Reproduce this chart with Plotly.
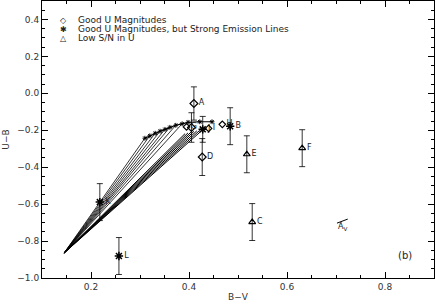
import plotly.graph_objects as go

# ---- model grid (two-component tracks) ----
start_bv = 0.145
start_ub = -0.865
upper_bv = [0.310, 0.320, 0.331, 0.341, 0.351, 0.361, 0.373, 0.386, 0.398, 0.422, 0.447]
upper_ub = [-0.243, -0.230, -0.216, -0.205, -0.195, -0.184, -0.173, -0.165, -0.157, -0.154, -0.154]
bundle_bv = [0.392, 0.398, 0.404, 0.410, 0.416, 0.422, 0.428]
bundle_ub = [-0.218, -0.214, -0.210, -0.206, -0.203, -0.200, -0.197]

# ---- observed points ----
good_bv = [0.410, 0.427]
good_ub = [-0.055, -0.345]
good_err = [0.09, 0.10]
good_lab = ["A", "D"]

good2_bv = [0.405]
good2_ub = [-0.185]
good2_err = [0.08]

emis_bv = [0.218, 0.257, 0.484, 0.428]
emis_ub = [-0.589, -0.881, -0.178, -0.195]
emis_err = [0.10, 0.10, 0.10, 0.07]
emis_lab = ["K", "L", "B", "J"]

low_bv = [0.518, 0.631, 0.529]
low_ub = [-0.330, -0.297, -0.697]
low_err = [0.10, 0.10, 0.10]
low_lab = ["E", "F", "C"]

clus_bv = [0.395, 0.440, 0.468]
clus_ub = [-0.182, -0.190, -0.168]
clus_lab = ["G", "I", "H"]

av_bv = [0.702, 0.724]
av_ub = [-0.703, -0.681]

xticks = [0.2, 0.4, 0.6, 0.8]
yticks = [-1.0, -0.8, -0.6, -0.4, -0.2, 0.0, 0.2, 0.4]

legend_labels = ["Good U Magnitudes",
                 "Good U Magnitudes, but Strong Emission Lines",
                 "Low S/N in U"]
legend_syms = ["\u25C7", "\u2731", "\u25B3"]

FONT = "DejaVu Sans, Verdana, sans-serif"
INK = "#222"

fig = go.Figure()

# fan lines from start point to upper curve
fx, fy = [], []
for i in range(8):
    fx += [start_bv, upper_bv[i], None]
    fy += [start_ub, upper_ub[i], None]
fig.add_trace(go.Scatter(x=fx, y=fy, mode="lines",
                         line=dict(color="black", width=0.8), hoverinfo="skip"))
# upper curve
fig.add_trace(go.Scatter(x=upper_bv, y=upper_ub, mode="lines+markers",
                         line=dict(color="black", width=1.2),
                         marker=dict(symbol="asterisk-open", size=4, color="black",
                                     line=dict(color="black", width=1)),
                         hoverinfo="skip"))
# thick bundle
bx, by = [], []
for i in range(len(bundle_bv)):
    bx += [start_bv, bundle_bv[i], None]
    by += [start_ub, bundle_ub[i], None]
fig.add_trace(go.Scatter(x=bx, y=by, mode="lines",
                         line=dict(color="black", width=1.0), hoverinfo="skip"))

err_style = dict(type="data", color="black", thickness=0.8, width=3)
tfont = dict(family=FONT, size=8, color=INK)

def pts(x, y, sym, size, err=None, lab=None, lw=1.2):
    kw = dict(x=x, y=y,
              marker=dict(symbol=sym, size=size, color="black",
                          line=dict(color="black", width=lw)))
    if lab is not None:
        kw.update(mode="markers+text", text=lab, textposition="middle right",
                  textfont=tfont)
    else:
        kw.update(mode="markers")
    if err is not None:
        kw["error_y"] = dict(array=err, **err_style)
    fig.add_trace(go.Scatter(**kw))

pts(good_bv, good_ub, "diamond-open", 6, good_err, good_lab)
pts(good2_bv, good2_ub, "diamond-open", 6, good2_err)
pts(emis_bv, emis_ub, "asterisk-open", 7, emis_err, emis_lab, lw=1.5)
pts(low_bv, low_ub, "triangle-up-open", 6, low_err, low_lab)
pts(clus_bv, clus_ub, "diamond-open", 5, None, clus_lab)

# reddening vector
fig.add_trace(go.Scatter(x=av_bv, y=av_ub, mode="lines",
                         line=dict(color="black", width=1), hoverinfo="skip"))

annotations = []
for k, (s, t) in enumerate(zip(legend_syms, legend_labels)):
    ypos = 0.395 - 0.049 * k
    annotations.append(dict(x=0.143, y=ypos, xref="x", yref="y", text=s,
                            showarrow=False, xanchor="center", yanchor="middle",
                            font=dict(family="DejaVu Sans", size=8, color=INK)))
    annotations.append(dict(x=0.170, y=ypos, xref="x", yref="y", text=t,
                            showarrow=False, xanchor="left", yanchor="middle",
                            font=dict(family=FONT, size=9, color=INK)))
annotations.append(dict(x=0.713, y=-0.722, xref="x", yref="y", text="A<sub>V</sub>",
                        showarrow=False, font=dict(family=FONT, size=8, color=INK)))
annotations.append(dict(x=0.840, y=-0.876, xref="x", yref="y", text="(b)",
                        showarrow=False, font=dict(family=FONT, size=10, color=INK)))

axis_common = dict(showline=True, linecolor="black", linewidth=1, mirror="ticks",
                   ticks="inside", ticklen=6, tickcolor="black", showgrid=False,
                   zeroline=False, automargin=False,
                   tickfont=dict(family=FONT, size=9, color="#333"))

fig.update_layout(
    width=436, height=306,
    margin=dict(l=42, r=2, t=1, b=28),
    paper_bgcolor="white", plot_bgcolor="white",
    showlegend=False,
    annotations=annotations,
    xaxis=dict(range=[0.1, 0.9], tickvals=xticks, tickformat=".1f",
               minor=dict(dtick=0.05, tick0=0.1, ticks="inside", ticklen=3, tickcolor="black"),
               title=dict(text="B\u2212V", font=dict(family=FONT, size=9, color="#333"), standoff=2),
               **axis_common),
    yaxis=dict(range=[-1.0, 0.5], tickvals=yticks, tickformat=".1f",
               minor=dict(dtick=0.05, tick0=0.0, ticks="inside", ticklen=3, tickcolor="black"),
               title=dict(text="U\u2212B", font=dict(family=FONT, size=9, color="#333"), standoff=6),
               **axis_common),
)

fig.write_html("out.html", config={"displayModeBar": False},
               post_script="document.body.style.margin='0';")
